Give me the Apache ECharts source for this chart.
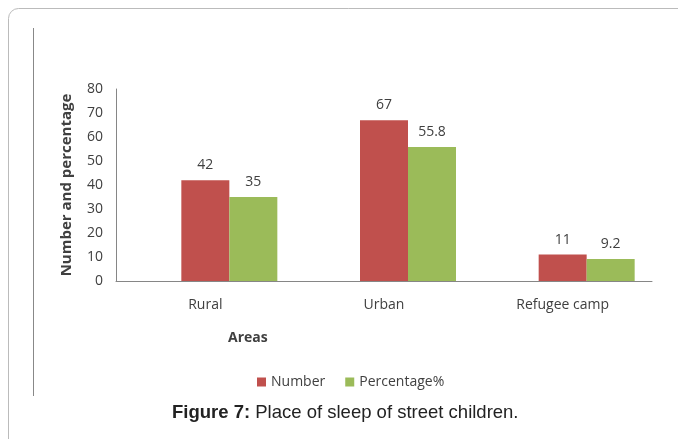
<!DOCTYPE html>
<html><head><meta charset="utf-8">
<script src="https://cdn.jsdelivr.net/npm/echarts@6/dist/echarts.min.js"></script>
<style>html,body{margin:0;padding:0;background:#fff}#c{width:678px;height:439px}</style>
</head><body><div id="c"></div>
<script>
var categories = ['Rural', 'Urban', 'Refugee camp'];
var numberValues = [42, 67, 11];
var percentValues = [35, 55.8, 9.2];
var blankValues = [null, null, null];
var seriesNames = ['Number', 'Percentage%'];

var chart = echarts.init(document.getElementById('c'));
var lblFont = 'Open Sans, Liberation Sans, sans-serif';
var lbl = {show: true, position: 'top', distance: 8, fontFamily: lblFont, fontSize: 14, color: '#404040'};
chart.setOption({
  animation: false,
  backgroundColor: '#fff',
  grid: {left: 116, right: 26, top: 89, bottom: 158},
  legend: {
    data: seriesNames, top: 370, left: 252, itemWidth: 9, itemHeight: 9, itemGap: 20, icon: 'rect',
    textStyle: {fontFamily: lblFont, fontSize: 14, color: '#404040'}
  },
  graphic: [
    {type: 'rect', shape: {x: 8.5, y: 8.5, width: 700, height: 460, r: 10}, style: {fill: 'none', stroke: '#bbb', lineWidth: 1}},
    {type: 'line', shape: {x1: 33.5, y1: 28, x2: 33.5, y2: 396}, style: {stroke: '#888', lineWidth: 1}},
    {type: 'text', left: 228, top: 331, style: {text: 'Areas', font: 'bold 14px ' + lblFont, fill: '#404040'}},
    {type: 'text', left: 172, top: 403, style: {
      text: '{b|Figure 7:} Place of sleep of street children.',
      rich: {b: {fontWeight: 'bold', fontSize: 18.5, fontFamily: 'Liberation Sans, Arial', fill: '#222'}},
      fontSize: 18.5, fontFamily: 'Liberation Sans, Arial', fill: '#222'
    }}
  ],
  xAxis: {
    type: 'category', data: categories,
    axisLine: {lineStyle: {color: '#868686'}}, axisTick: {show: false},
    axisLabel: {margin: 17, fontFamily: lblFont, fontSize: 14, color: '#404040'}
  },
  yAxis: {
    type: 'value', min: 0, max: 80, interval: 10,
    name: 'Number and percentage', nameLocation: 'middle', nameGap: 42, nameRotate: 90,
    nameTextStyle: {fontWeight: 'bold', fontFamily: lblFont, fontSize: 15, color: '#404040'},
    axisLine: {show: true, lineStyle: {color: '#868686'}}, axisTick: {show: false},
    splitLine: {show: false},
    axisLabel: {margin: 13, fontFamily: lblFont, fontSize: 14, color: '#404040'}
  },
  series: [
    {name: 'blank', type: 'bar', data: blankValues, barWidth: 48, barGap: '0%', itemStyle: {color: 'transparent'}},
    {name: seriesNames[0], type: 'bar', data: numberValues, barWidth: 48, barGap: '0%', itemStyle: {color: '#C0504D'}, label: lbl},
    {name: seriesNames[1], type: 'bar', data: percentValues, barWidth: 48, barGap: '0%', itemStyle: {color: '#9BBB59'}, label: lbl}
  ]
});
</script></body></html>
